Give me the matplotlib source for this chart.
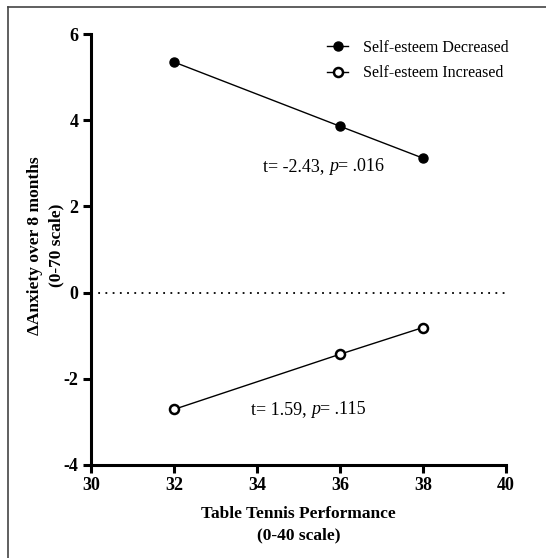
import matplotlib
matplotlib.use("Agg")
import matplotlib.pyplot as plt
from matplotlib.lines import Line2D
from matplotlib.offsetbox import TextArea, HPacker, AnnotationBbox

plt.rcParams['font.family'] = ['Liberation Serif', 'DejaVu Serif']

x_vals = [32, 36, 38]
decreased = [5.35, 3.86, 3.12]
increased = [-2.71, -1.43, -0.81]
series_labels = ["Self-esteem Decreased", "Self-esteem Increased"]
xticks = [30, 32, 34, 36, 38, 40]
yticks = [-4, -2, 0, 2, 4, 6]
annot1 = ("t= -2.43, ", "p", "= .016")
annot2 = ("t= 1.59, ", "p", "= .115")

fig = plt.figure(figsize=(5.46, 5.58), dpi=100)
ax = fig.add_axes([0.1667, 0.1667, 0.76, 0.7723])

# figure frame (top and left visible)
fig.add_artist(Line2D([8/546, 8/546], [0, 1 - 7/558], transform=fig.transFigure, color='#444444', lw=1.2))
fig.add_artist(Line2D([8/546, 1], [1 - 7/558, 1 - 7/558], transform=fig.transFigure, color='#444444', lw=1.2))

ax.axhline(0, color='black', lw=1.3, ls=(0, (1, 3)))
ax.plot(x_vals, decreased, color='black', lw=1.0, marker='o', ms=6.5,
        markerfacecolor='black', markeredgecolor='black', label=series_labels[0])
ax.plot(x_vals, increased, color='black', lw=1.0, marker='o', ms=6.5,
        markerfacecolor='white', markeredgecolor='black', markeredgewidth=1.8,
        label=series_labels[1])

ax.set_xlim(30, 40)
ax.set_ylim(-4, 6)
ax.set_xticks(xticks)
ax.set_yticks(yticks)
ax.set_xticklabels([str(t) for t in xticks], fontweight='bold', fontsize=13)
ax.set_yticklabels([str(t) for t in yticks], fontweight='bold', fontsize=13)
for s in ['top', 'right']:
    ax.spines[s].set_visible(False)
for s in ['left', 'bottom']:
    ax.spines[s].set_linewidth(2.2)
ax.tick_params(width=2.2, length=6, direction='out', pad=3)

ax.set_xlabel("Table Tennis Performance\n(0-40 scale)", fontweight='bold', fontsize=12.5,
              labelpad=8, linespacing=1.5)
ax.set_ylabel("\u0394Anxiety over 8 months\n(0-70 scale)", fontweight='bold', fontsize=12.5,
              linespacing=1.5)
ax.yaxis.set_label_coords(-0.063, 0.51)


def stat_text(parts, xy):
    a, p, b = parts
    boxes = [TextArea(a, textprops=dict(fontsize=13)),
             TextArea(p, textprops=dict(fontsize=13, style='italic')),
             TextArea(b, textprops=dict(fontsize=13))]
    pack = HPacker(children=boxes, pad=0, sep=0, align='baseline')
    ab = AnnotationBbox(pack, xy, xycoords='data', frameon=False, box_alignment=(0.5, 0.5), pad=0)
    ax.add_artist(ab)


stat_text(annot1, (35.6, 2.92))
stat_text(annot2, (35.23, -2.72))

leg = ax.legend(loc='upper right', bbox_to_anchor=(1.04, 1.02), frameon=False, fontsize=11.5,
                handlelength=1.3, handletextpad=0.9, labelspacing=0.6)

fig.savefig("out.png", dpi=100)
